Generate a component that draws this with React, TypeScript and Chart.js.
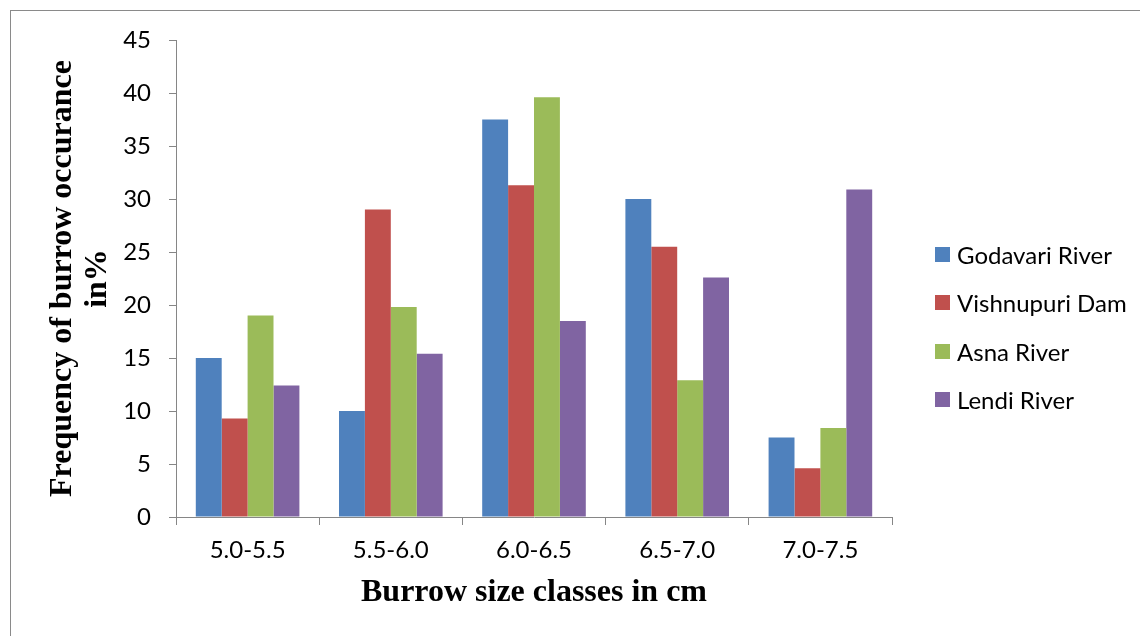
import React, { useEffect, useRef } from "react";
import { Chart, registerables } from "chart.js";

Chart.register(...registerables);

const categories = ["5.0-5.5", "5.5-6.0", "6.0-6.5", "6.5-7.0", "7.0-7.5"];
const godavari = [15, 10, 37.5, 30, 7.5];
const vishnupuri = [9.3, 29, 31.3, 25.5, 4.6];
const asna = [19, 19.8, 39.6, 12.9, 8.4];
const lendi = [12.4, 15.4, 18.5, 22.6, 30.9];
const seriesNames = ["Godavari River", "Vishnupuri Dam", "Asna River", "Lendi River"];
const seriesColors = ["#4F81BD", "#C0504D", "#9BBB59", "#8064A2"];
const yMax = 45;
const yStep = 5;
const xTitle = "Burrow size classes in cm";
const yTitle = ["Frequency of burrow occurance", "in%"];

const W = 1140;
const H = 636;
const axisColor = "#868686";

export default function App() {
  const ref = useRef<HTMLCanvasElement | null>(null);

  useEffect(() => {
    if (!ref.current) return;
    const values = [godavari, vishnupuri, asna, lendi];
    const chart = new Chart(ref.current, {
      type: "bar",
      data: {
        labels: categories,
        datasets: values.map((v, i) => ({
          label: seriesNames[i],
          data: v,
          backgroundColor: seriesColors[i],
          borderWidth: 0,
          categoryPercentage: 0.7235,
          barPercentage: 1,
        })),
      },
      options: {
        responsive: false,
        animation: false,
        devicePixelRatio: 1,
        layout: { padding: { top: 40, left: 0, right: W - 892, bottom: 0 } },
        plugins: {
          legend: { display: false },
          tooltip: { enabled: false },
        },
        scales: {
          x: {
            grid: {
              display: true,
              drawOnChartArea: false,
              drawTicks: true,
              tickLength: 8,
              color: axisColor,
              offset: true,
            },
            border: { display: true, color: axisColor, width: 1 },
            ticks: {
              color: "#000",
              padding: 11,
              font: { family: "Lato", size: 24 },
              maxRotation: 0,
            },
            title: {
              display: true,
              text: xTitle,
              color: "#000",
              font: { family: "Liberation Serif", size: 32, weight: "bold", lineHeight: 1.1 },
              padding: { top: 0, bottom: 26 },
            },
            afterFit: (scale: any) => {
              scale.height = H - 517;
            },
          },
          y: {
            min: 0,
            max: yMax,
            grid: {
              display: true,
              drawOnChartArea: false,
              drawTicks: true,
              tickLength: 7,
              color: axisColor,
            },
            border: { display: true, color: axisColor, width: 1 },
            ticks: {
              stepSize: yStep,
              color: "#000",
              padding: 18,
              font: { family: "Lato", size: 24 },
            },
            title: {
              display: true,
              text: yTitle,
              color: "#000",
              font: { family: "Liberation Serif", size: 32, weight: "bold", lineHeight: 1.1 },
              padding: { top: 45, bottom: 0 },
            },
            afterFit: (scale: any) => {
              scale.width = 176;
            },
          },
        },
      },
    });
    return () => chart.destroy();
  }, []);

  return (
    <div
      style={{
        position: "fixed",
        left: 0,
        top: 0,
        width: W,
        height: H,
        background: "#fff",
        overflow: "hidden",
      }}
    >
      <div
        style={{
          position: "absolute",
          left: 10,
          top: 10,
          width: 2000,
          height: 2000,
          borderLeft: "1px solid #8a8a8a",
          borderTop: "1px solid #8a8a8a",
        }}
      />
      <canvas
        ref={ref}
        width={W}
        height={H}
        style={{ position: "absolute", left: 0, top: 0, width: W, height: H }}
      />
      <div style={{ position: "absolute", left: 935, top: 230.3 }}>
        {seriesNames.map((name, i) => (
          <div
            key={name}
            style={{
              height: 48.3,
              display: "flex",
              alignItems: "center",
              fontFamily: "Lato",
              fontSize: 24,
              color: "#000",
              whiteSpace: "nowrap",
            }}
          >
            <span
              style={{
                display: "inline-block",
                width: 15,
                height: 15,
                background: seriesColors[i],
                marginRight: 7,
              }}
            />
            <span>{name}</span>
          </div>
        ))}
      </div>
    </div>
  );
}
